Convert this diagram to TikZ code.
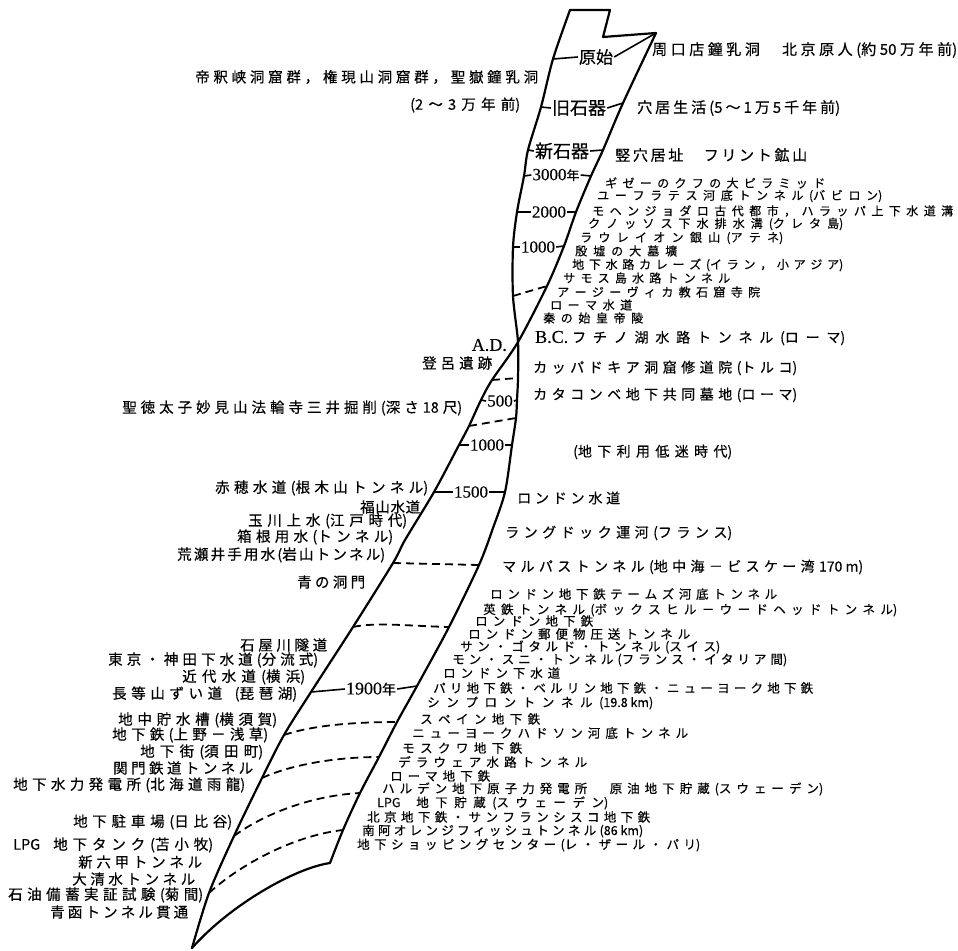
\documentclass[tikz,border=0pt]{standalone}
\usepackage{fontspec}
\setmainfont{Noto Sans CJK JP}[FakeBold=0.4]
\newfontfamily\latf{Liberation Serif}[FakeBold=0.3]
\ExplSyntaxOn
\bool_new:N \l__sp_nogap_bool
\NewDocumentCommand \spreadto { m m }
  {
    \hbox_to_wd:nn { #1 }
      {
        \bool_set_false:N \l__sp_nogap_bool
        \skip_horizontal:n { 0pt plus -1fil }
        \tl_map_inline:nn { #2 }
          {
            \str_case:nnF { ##1 }
              {
                { ( } { \hfil ( \bool_set_true:N \l__sp_nogap_bool }
                { ) } { ) }
              }
              {
                \bool_if:NF \l__sp_nogap_bool { \hfil }
                \bool_set_false:N \l__sp_nogap_bool
                \group_begin: ##1 \group_end:
              }
          }
      }
  }
\ExplSyntaxOff
\tikzset{
  lab/.style={inner sep=0pt, anchor=west},
  band/.style={line width=2.2pt, line cap=round, line join=round},
  tk/.style={line width=1.6pt},
  dsh/.style={line width=1.8pt, dash pattern=on 8pt off 5pt},
  tlab/.style={inner sep=1pt},
}
\newcommand\mylbl[6]{\node[lab,font=\fontsize{#5}{#5}\selectfont] (#1) at (#2,#4) {\spreadto{#3pt-#2pt}{#6}};}
\begin{document}
\begin{tikzpicture}[x=1pt,y=-1pt]
\useasboundingbox (0,0) rectangle (958,950);
% ---- boundary points
\coordinate (L0) at (570,10);
\coordinate (L1) at (553,59);
\coordinate (L2) at (541,107);
\coordinate (L3) at (528,150);
\coordinate (L3b) at (524,176);
\coordinate (L4) at (517,212);
\coordinate (L5) at (513,247);
\coordinate (L6) at (513,296);
\coordinate (X) at (518,342);
\coordinate (L7) at (518,378);
\coordinate (L8) at (517,400);
\coordinate (L9) at (516,418);
\coordinate (L10) at (512,445);
\coordinate (L11) at (505,492);
\coordinate (L12) at (493,528);
\coordinate (L13) at (479,565);
\coordinate (L14) at (449,627);
\coordinate (L15) at (417,686);
\coordinate (L16) at (397,722);
\coordinate (L17) at (379,757);
\coordinate (L18) at (360,793);
\coordinate (L19) at (343,830);
\coordinate (L20) at (330,863);
\coordinate (R0) at (656,33);
\coordinate (R1) at (623,103);
\coordinate (R2) at (603,150);
\coordinate (R3) at (591,176);
\coordinate (R4) at (576,212);
\coordinate (R5) at (564,246);
\coordinate (R6) at (547,286);
\coordinate (R7) at (492,380);
\coordinate (R8) at (481,400);
\coordinate (R9) at (469,426);
\coordinate (R10) at (459,445);
\coordinate (R11) at (434,492);
\coordinate (R12) at (405,540);
\coordinate (R13) at (393,563);
\coordinate (R14) at (353,627);
\coordinate (R15) at (311,692);
\coordinate (R16) at (284,735);
\coordinate (R17) at (262,778);
\coordinate (R18) at (234,836);
\coordinate (R19) at (209,893);
\coordinate (T) at (192,948);
\coordinate (F1) at (610,10);
\coordinate (F2) at (603,37);
% ---- band
\draw[band] plot[smooth] coordinates {(L0) (L1) (L2) (L3) (L3b) (L4) (L5) (L6) (X) (L7) (L8) (L9) (L10) (L11) (L12) (L13) (L14) (L15) (L16) (L17) (L18) (L19) (L20)};
\draw[band] plot[smooth] coordinates {(R0) (R1) (R2) (R3) (R4) (R5) (R6) (X) (R7) (R8) (R9) (R10) (R11) (R12) (R13) (R14) (R15) (R16) (R17) (R18) (R19) (T)};
\draw[band] (L0) -- (F1) -- (F2) -- (R0);
\draw[band] (L20) .. controls (295,868) and (230,905) .. (T);
% ---- dashed separators
\draw[dsh] (L6) -- (R6);
\draw[dsh] (R7) -- (L7);
\draw[dsh] (R9) -- (L9);
\draw[dsh] (R13) -- (L13);
\draw[dsh] (R14) .. controls (375,622) and (410,626) .. (L14);
\draw[dsh] (R16) .. controls (310,726) and (350,722) .. (L16);
\draw[dsh] (R17) .. controls (290,765) and (335,757) .. (L17);
\draw[dsh] (R18) .. controls (258,818) and (305,796) .. (L18);
\draw[dsh] (R19) .. controls (236,868) and (290,836) .. (L19);
% ---- tick labels
\node[tlab,font=\fontsize{17}{17}\selectfont] (k1) at (596,57) {原始};
\draw[tk] (L1) -- (k1.west); \draw[tk] (k1.east) -- (R0);
\node[tlab,font=\fontsize{18}{18}\selectfont] (k2) at (579,108) {旧石器};
\draw[tk] (L2) -- (k2.west); \draw[tk] (k2.east) -- (R1);
\node[tlab,font=\fontsize{18}{18}\selectfont] (k3) at (562,151) {新石器};
\draw[tk] (L3) -- (k3.west); \draw[tk] (k3.east) -- (R2);
\node[tlab,font=\fontsize{17}{17}\selectfont] (k4) at (556,175) {{\latf 3000}{\fontsize{13}{13}\selectfont 年}};
\draw[tk] (L3b) -- (k4.west); \draw[tk] (k4.east) -- (R3);
\node[tlab,font=\latf\fontsize{17}{17}\selectfont] (k5) at (549,212) {2000};
\draw[tk] (L4) -- (k5.west); \draw[tk] (k5.east) -- (R4);
\node[tlab,font=\latf\fontsize{17}{17}\selectfont] (k6) at (538,247) {1000};
\draw[tk] (L5) -- (k6.west); \draw[tk] (k6.east) -- (R5);
\node[tlab,font=\latf\fontsize{17}{17}\selectfont] (k7) at (500,401) {500};
\draw[tk] (R8) -- (k7.west); \draw[tk] (k7.east) -- (L8);
\node[tlab,font=\latf\fontsize{17}{17}\selectfont] (k8) at (487,445) {1000};
\draw[tk] (R10) -- (k8.west); \draw[tk] (k8.east) -- (L10);
\node[tlab,font=\latf\fontsize{17}{17}\selectfont] (k9) at (471,492) {1500};
\draw[tk] (R11) -- (k9.west); \draw[tk] (k9.east) -- (L11);
\node[tlab,font=\fontsize{18}{18}\selectfont] (k10) at (371,689) {{\latf 1900}{\fontsize{14}{14}\selectfont 年}};
\draw[tk] (R15) -- (k10.west); \draw[tk] (k10.east) -- (L15);
\node[inner sep=0pt,anchor=east,font=\latf\fontsize{18}{18}\selectfont] (ad) at (507,345) {A.D.};
\node[inner sep=0pt,anchor=west,font=\latf\fontsize{18}{18}\selectfont] (bc) at (535,337) {B.C.};
% ---- right labels
\mylbl{r1}{652}{957}{50}{15}{周口店鐘乳洞　北京原人(約{50}万年前)}
\mylbl{r2}{637}{840}{108}{15}{穴居生活(5〜1万5千年前)}
\mylbl{r3}{615}{807}{155}{15}{竪穴居址　フリント鉱山}
\mylbl{r4}{605}{825}{183}{12}{ギゼーのクフの大ピラミッド}
\mylbl{r5}{597}{882}{196}{12}{ユーフラテス河底トンネル(バビロン)}
\mylbl{r6}{592}{953}{211}{12}{モヘンジョダロ古代都市，ハラッパ上下水道溝}
\mylbl{r7}{588}{843}{224}{12}{クノッソス下水排水溝(クレタ島)}
\mylbl{r8}{580}{783}{238}{12}{ラウレイオン銀山(アテネ)}
\mylbl{r9}{575}{677}{251}{12}{殷墟の大墓壙}
\mylbl{r10}{572}{843}{265}{12}{地下水路カレーズ(イラン，小アジア)}
\mylbl{r11}{563}{730}{278}{12}{サモス島水路トンネル}
\mylbl{r12}{557}{760}{292}{12}{アージーヴィカ教石窟寺院}
\mylbl{r13}{550}{632}{305}{12}{ローマ水道}
\mylbl{r14}{543}{643}{318}{12}{秦の始皇帝陵}
\mylbl{r15}{572}{845}{338}{14}{フチノ湖水路トンネル(ローマ)}
\mylbl{r16}{533}{797}{368}{14}{カッパドキア洞窟修道院(トルコ)}
\mylbl{r17}{533}{797}{395}{14}{カタコンベ地下共同墓地(ローマ)}
\mylbl{r18}{573}{732}{452}{14}{(地下利用低迷時代)}
\mylbl{r19}{517}{620}{498}{14}{ロンドン水道}
\mylbl{r20}{505}{732}{533}{14}{ラングドック運河(フランス)}
\mylbl{r21}{502}{863}{567}{14}{マルパストンネル(地中海－ビスケー湾{170~m})}
\mylbl{r22}{490}{777}{594}{12.5}{ロンドン地下鉄テームズ河底トンネル}
\mylbl{r23}{483}{897}{610}{12.5}{英鉄トンネル(ボックスヒル－ウードヘッドトンネル)}
\mylbl{r24}{475}{593}{621}{12.5}{ロンドン地下鉄}
\mylbl{r25}{468}{690}{634}{12.5}{ロンドン郵便物圧送トンネル}
\mylbl{r26}{460}{720}{647}{12.5}{サン・ゴタルド・トンネル(スイス)}
\mylbl{r27}{452}{787}{660}{12.5}{モン・スニ・トンネル(フランス・イタリア間)}
\mylbl{r28}{443}{560}{673}{12.5}{ロンドン下水道}
\mylbl{r29}{433}{813}{688}{12.5}{パリ地下鉄・ベルリン地下鉄・ニューヨーク地下鉄}
\mylbl{r30}{427}{653}{703}{12.5}{シンプロントンネル({19.8~km})}
\mylbl{r31}{420}{540}{719}{12.5}{スペイン地下鉄}
\mylbl{r32}{412}{688}{733}{12.5}{ニューヨークハドソン河底トンネル}
\mylbl{r33}{402}{522}{748}{12.5}{モスクワ地下鉄}
\mylbl{r34}{398}{587}{762}{12.5}{デラウェア水路トンネル}
\mylbl{r35}{390}{490}{776}{12.5}{ローマ地下鉄}
\mylbl{r36}{382}{823}{789}{12.5}{ハルデン地下原子力発電所　原油地下貯蔵(スウェーデン)}
\mylbl{r37}{377}{608}{803}{12.5}{{LPG}~地下貯蔵(スウェーデン)}
\mylbl{r38}{367}{650}{817}{12.5}{北京地下鉄・サンフランシスコ地下鉄}
\mylbl{r39}{362}{643}{831}{12.5}{南阿オレンジフィッシュトンネル({86~km})}
\mylbl{r40}{357}{700}{845}{12.5}{地下ショッピングセンター(レ・ザール・パリ)}
% ---- left labels
\mylbl{l1}{195}{538}{77}{14.5}{帝釈峡洞窟群，権現山洞窟群，聖嶽鐘乳洞}
\mylbl{l2}{410}{520}{105}{14.5}{(2〜3万年前)}
\mylbl{l3}{422}{492}{363}{14.5}{登呂遺跡}
\mylbl{l4}{122}{462}{408}{14.5}{聖徳太子妙見山法輪寺三井掘削(深さ{18}尺)}
\mylbl{l5}{215}{428}{488}{14.5}{赤穂水道(根木山トンネル)}
\mylbl{l6}{360}{420}{507}{14.5}{福山水道}
\mylbl{l7}{248}{407}{521}{14.5}{玉川上水(江戸時代)}
\mylbl{l8}{237}{393}{537}{14.5}{箱根用水(トンネル)}
\mylbl{l9}{177}{385}{555}{14.5}{荒瀬井手用水(岩山トンネル)}
\mylbl{l10}{297}{365}{582}{14.5}{青の洞門}
\mylbl{l11}{240}{327}{645}{14.5}{石屋川隧道}
\mylbl{l12}{108}{318}{660}{14.5}{東京・神田下水道(分流式)}
\mylbl{l13}{182}{305}{677}{14.5}{近代水道(横浜)}
\mylbl{l14}{112}{297}{694}{14.5}{長等山ずい道~(琵琶湖)}
\mylbl{l15}{118}{277}{720}{14.5}{地中貯水槽(横須賀)}
\mylbl{l16}{112}{268}{735}{14.5}{地下鉄(上野－浅草)}
\mylbl{l17}{140}{263}{752}{14.5}{地下街(須田町)}
\mylbl{l18}{113}{253}{768}{14.5}{関門鉄道トンネル}
\mylbl{l19}{13}{245}{785}{14.5}{地下水力発電所(北海道雨龍)}
\mylbl{l20}{73}{232}{822}{14.5}{地下駐車場(日比谷)}
\mylbl{l21}{13}{213}{845}{14.5}{{LPG}~地下タンク(苫小牧)}
\mylbl{l22}{78}{202}{862}{14.5}{新六甲トンネル}
\mylbl{l23}{72}{195}{879}{14.5}{大清水トンネル}
\mylbl{l24}{8}{203}{895}{14.5}{石油備蓄実証試験(菊間)}
\mylbl{l25}{50}{188}{912}{14.5}{青函トンネル貫通}
\end{tikzpicture}
\end{document}
